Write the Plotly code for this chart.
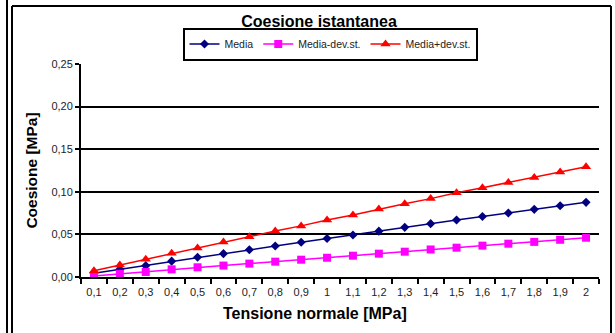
import plotly.graph_objects as go

# ---- data ----
categories = ["0,1", "0,2", "0,3", "0,4", "0,5", "0,6", "0,7", "0,8", "0,9", "1",
              "1,1", "1,2", "1,3", "1,4", "1,5", "1,6", "1,7", "1,8", "1,9", "2"]
media = [0.0044, 0.0090, 0.0133, 0.0186, 0.0231, 0.0274, 0.0320, 0.0364, 0.0407, 0.0452,
         0.0493, 0.0538, 0.0583, 0.0626, 0.0669, 0.0710, 0.0751, 0.0794, 0.0837, 0.0876]
media_minus = [0.0012, 0.0038, 0.0059, 0.0090, 0.0114, 0.0134, 0.0157, 0.0180, 0.0203, 0.0226,
               0.0250, 0.0274, 0.0297, 0.0323, 0.0344, 0.0368, 0.0391, 0.0412, 0.0437, 0.0461]
media_plus = [0.0074, 0.0141, 0.0207, 0.0278, 0.0341, 0.0410, 0.0473, 0.0540, 0.0600, 0.0669,
              0.0728, 0.0798, 0.0860, 0.0920, 0.0990, 0.1048, 0.1108, 0.1168, 0.1232, 0.1295]
y_ticks = [0, 0.05, 0.10, 0.15, 0.20, 0.25]

FONT = "Arial, Liberation Sans, sans-serif"
W, H = 615, 333
L, R, T, B = 81, 16, 64, 56
PW, PH = W - L - R, H - T - B


def px_x(p):
    return (p - L) / PW


def px_y(p):
    return (H - B - p) / PH


fig = go.Figure()
fig.add_trace(go.Scatter(x=categories, y=media, name="Media", mode="lines+markers",
                         line=dict(color="#000080", width=1.5),
                         marker=dict(symbol="diamond", size=7, color="#000080")))
fig.add_trace(go.Scatter(x=categories, y=media_minus, name="Media-dev.st.", mode="lines+markers",
                         line=dict(color="#FF00FF", width=1.5),
                         marker=dict(symbol="square", size=8, color="#FF00FF")))
fig.add_trace(go.Scatter(x=categories, y=media_plus, name="Media+dev.st.", mode="lines+markers",
                         line=dict(color="#FF0000", width=1.5),
                         marker=dict(symbol="triangle-up", size=9, color="#FF0000")))

shapes = [
    dict(type="line", xref="paper", yref="paper", x0=px_x(7), x1=px_x(7), y0=px_y(-5), y1=px_y(340),
         line=dict(color="black", width=2)),
    dict(type="line", xref="paper", yref="paper", x0=px_x(12), x1=px_x(12), y0=px_y(6), y1=px_y(340),
         line=dict(color="black", width=2)),
    dict(type="line", xref="paper", yref="paper", x0=px_x(12), x1=px_x(611), y0=px_y(6), y1=px_y(6),
         line=dict(color="black", width=2)),
    dict(type="line", xref="paper", yref="paper", x0=px_x(611), x1=px_x(611), y0=px_y(6), y1=px_y(340),
         line=dict(color="black", width=2)),
]

annotations = [
    dict(text="<b>Tensione normale [MPa]</b>", xref="paper", yref="paper",
         x=px_x(315), y=px_y(313), xanchor="center", yanchor="middle", showarrow=False,
         font=dict(family=FONT, size=16, color="black")),
]

fig.update_layout(
    width=W, height=H,
    margin=dict(l=L, r=R, t=T, b=B),
    paper_bgcolor="white", plot_bgcolor="white",
    separators=",.",
    font=dict(family=FONT, size=11, color="#222"),
    title=dict(text="<b>Coesione istantanea</b>", x=319 / W, xanchor="center",
               y=1 - 21 / H, yanchor="middle", font=dict(family=FONT, size=16, color="black")),
    legend=dict(orientation="h", x=px_x(330), xanchor="center", y=px_y(44), yanchor="middle",
                bordercolor="black", borderwidth=2, bgcolor="white",
                font=dict(family=FONT, size=10.5, color="#222"), itemwidth=30,
                tracegroupgap=0),
    showlegend=True,
    shapes=shapes,
    annotations=annotations,
    xaxis=dict(type="category", categoryorder="array", categoryarray=categories,
               range=[-0.5, len(categories) - 0.5],
               tickson="boundaries", ticks="outside", ticklen=5, tickwidth=2, tickcolor="black",
               tickangle=0, ticklabelstandoff=4,
               showline=True, linecolor="black", linewidth=2, showgrid=False,
               tickfont=dict(family=FONT, size=11, color="#222")),
    yaxis=dict(range=[0, 0.25], tickvals=y_ticks, tickformat=".2f",
               ticks="outside", ticklen=4, tickwidth=2, tickcolor="black",
               showline=True, linecolor="black", linewidth=2,
               showgrid=True, gridcolor="black", gridwidth=2, zeroline=False,
               title=dict(text="<b>Coesione [MPa]</b>", standoff=10,
                          font=dict(family=FONT, size=15.5, color="black")),
               tickfont=dict(family=FONT, size=11, color="#222")),
)

fig.write_html("out.html")
